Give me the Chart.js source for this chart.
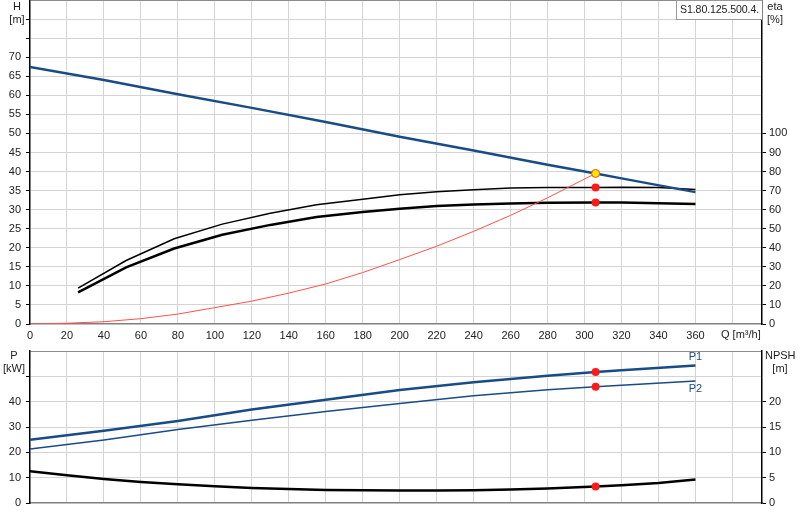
<!DOCTYPE html>
<html>
<head>
<meta charset="utf-8">
<script src="https://cdn.jsdelivr.net/npm/chart.js@4.4.1/dist/chart.umd.min.js"></script>
<style>
  body { margin: 0; background: #fff; }
  #wrap { position: relative; width: 800px; height: 520px; overflow: hidden; font-family: "Liberation Sans", Arial, sans-serif; font-size: 11px; color: #222; }
  canvas { position: absolute; left: 0; }
  #top { top: 0; }
  #bottom { top: 340px; }
  .lbl { position: absolute; text-align: center; line-height: 12.5px; white-space: nowrap; z-index: 2; }
  #box { position: absolute; left: 676px; top: 0; width: 82px; height: 18px; border: 1px solid #999; border-right: none; background: #fff;
         padding-left: 3px; line-height: 17px; font-size: 10.6px; letter-spacing: -0.1px; overflow: hidden; white-space: nowrap; z-index: 2; }
</style>
</head>
<body>
<div id="wrap">
  <canvas id="top" width="800" height="345"></canvas>
  <canvas id="bottom" width="800" height="180"></canvas>
  <div class="lbl" style="left:4px;top:0;width:26px">H<br>[m]</div>
  <div class="lbl" style="left:764px;top:0;width:22px">eta<br>[%]</div>
  <div class="lbl" style="left:721px;top:328px">Q [m³/h]</div>
  <div class="lbl" style="left:1px;top:349px;width:26px">P<br>[kW]</div>
  <div class="lbl" style="left:765px;top:349px;width:30px">NPSH<br>[m]</div>
  <div id="box">S1.80.125.500.4.</div>
</div>
<script>
// pump head curve H(Q)
const qHead = [0, 40, 80, 120, 160, 200, 240, 280, 306, 320, 360];
const head = [67.4, 64.0, 60.3, 56.7, 53.0, 49.1, 45.5, 41.8, 39.5, 38.2, 34.6];

// efficiency curves (right axis, %)
const qEta = [26, 52, 78, 104, 130, 155, 180, 200, 220, 240, 260, 280, 306, 320, 340, 360];
const eta1 = [18.8, 33.3, 44.7, 52.4, 58.1, 62.6, 65.5, 67.8, 69.4, 70.4, 71.3, 71.6, 71.6, 71.8, 71.6, 70.6];
const eta2 = [16.6, 29.7, 39.6, 46.8, 52.0, 56.1, 58.8, 60.5, 61.9, 62.7, 63.2, 63.6, 63.8, 63.8, 63.4, 62.9];

// system curve
const qSys = [0, 20, 40, 60, 80, 100, 120, 140, 160, 180, 200, 220, 240, 260, 280, 306];
const sysHead = [0, 0.2, 0.6, 1.4, 2.6, 4.3, 6.0, 8.1, 10.5, 13.5, 16.9, 20.4, 24.3, 28.5, 33.1, 39.5];

// power and NPSH
const qPow = [0, 40, 80, 120, 160, 200, 240, 280, 306, 320, 360];
const p1 = [25.0, 28.5, 32.4, 36.9, 40.8, 44.6, 47.7, 50.2, 51.7, 52.4, 54.3];
const p2 = [21.3, 24.9, 29.0, 32.7, 36.1, 39.3, 42.3, 44.7, 45.9, 46.5, 48.2];
const qNpsh = [0, 20, 40, 60, 80, 100, 120, 140, 160, 180, 200, 220, 240, 260, 280, 306, 320, 340, 360];
const npsh = [6.26, 5.47, 4.74, 4.15, 3.69, 3.30, 2.96, 2.76, 2.57, 2.51, 2.45, 2.45, 2.51, 2.65, 2.84, 3.24, 3.49, 3.95, 4.62];

// duty point
const qDuty = 306;
const dutyHead = 39.5;
const dutyEta = [71.6, 63.8];
const dutyP = [51.7, 45.9];
const dutyNpsh = 3.24;

const BLUE = '#194b87';
const GRID = '#d4d4d4';

Chart.defaults.font.family = '"Liberation Sans", Arial, sans-serif';
Chart.defaults.font.size = 11;
Chart.defaults.color = '#222';

const pts = (xs, ys) => xs.map((x, i) => ({ x: x, y: ys[i] }));
const line = (data, color, width, axis) => ({
  data: data, borderColor: color, borderWidth: width, pointRadius: 0,
  fill: false, tension: 0, yAxisID: axis, order: 2
});
const dot = (x, y, axis, fillCol, edge) => ({
  type: 'scatter', data: [{ x: x, y: y }], yAxisID: axis, order: 0,
  pointRadius: 4, backgroundColor: fillCol, borderColor: edge || fillCol, borderWidth: edge ? 1 : 0
});

function noPad(s) { s.paddingTop = 0; s.paddingBottom = 0; s.paddingLeft = 0; s.paddingRight = 0; }

function xScale(height, showLabels) {
  return {
    type: 'linear', min: 0, max: 396,
    grid: { color: c => (c.tick && c.tick.value === 0 ? 'rgba(0,0,0,0)' : GRID), drawTicks: false },
    border: { color: '#808080', width: 1.5 },
    ticks: { display: showLabels, stepSize: 20, includeBounds: false, autoSkip: false, maxRotation: 0, padding: 5,
             callback: v => (v <= 360 ? v : '') },
    afterFit: s => { s.height = height; noPad(s); }
  };
}

function yScale(pos, max, step, lastLabel, width, onArea) {
  return {
    type: 'linear', position: pos, min: 0, max: max,
    grid: {
      drawOnChartArea: onArea, tickLength: 4,
      color: c => {
        if (!c.tick || c.tick.value === 0) return 'rgba(0,0,0,0)';
        return c.tick.value === max ? '#8c8c8c' : GRID;
      },
      tickColor: c => (c.tick && c.tick.value < max && c.tick.value <= (onArea ? max : lastLabel) ? '#000' : 'rgba(0,0,0,0)')
    },
    border: { color: '#000', width: 1.5 },
    ticks: { stepSize: step, autoSkip: false, padding: pos === 'left' ? 5 : 3,
             callback: v => (v <= lastLabel ? v : '') },
    afterFit: s => { s.width = width; noPad(s); }
  };
}

new Chart(document.getElementById('top'), {
  type: 'line',
  data: {
    datasets: [
      dot(qDuty, dutyHead, 'y', '#ffe600', '#e05a00'),
      dot(qDuty, dutyEta[0], 'y2', '#ff1a1a'),
      dot(qDuty, dutyEta[1], 'y2', '#ff1a1a'),
      line(pts(qHead, head), BLUE, 2.5, 'y'),
      line(pts(qSys, sysHead), '#ff5050', 1, 'y'),
      line(pts(qEta, eta1), '#000', 1.5, 'y2'),
      line(pts(qEta, eta2), '#000', 2.5, 'y2')
    ]
  },
  options: {
    responsive: false, animation: false,
    layout: { padding: 0, autoPadding: false },
    plugins: { legend: { display: false }, tooltip: { enabled: false } },
    scales: {
      x: xScale(21, true),
      y: yScale('left', 85, 5, 70, 30, true),
      y2: yScale('right', 170, 10, 100, 38, false)
    }
  }
});

const curveTags = {
  id: 'curveTags',
  afterDatasetsDraw(chart) {
    const { ctx, scales } = chart;
    const xe = scales.x.getPixelForValue(qPow[qPow.length - 1]);
    ctx.save();
    ctx.fillStyle = BLUE;
    ctx.font = '11px "Liberation Sans", Arial, sans-serif';
    ctx.textAlign = 'center';
    ctx.textBaseline = 'alphabetic';
    ctx.fillText('P1', xe, scales.y.getPixelForValue(p1[p1.length - 1]) - 5);
    ctx.fillText('P2', xe, scales.y.getPixelForValue(p2[p2.length - 1]) + 11);
    ctx.restore();
  }
};

new Chart(document.getElementById('bottom'), {
  type: 'line',
  data: {
    datasets: [
      dot(qDuty, dutyP[0], 'y', '#ff1a1a'),
      dot(qDuty, dutyP[1], 'y', '#ff1a1a'),
      dot(qDuty, dutyNpsh, 'y2', '#ff1a1a'),
      line(pts(qPow, p1), BLUE, 2.5, 'y'),
      line(pts(qPow, p2), BLUE, 1.5, 'y'),
      line(pts(qNpsh, npsh), '#000', 2.5, 'y2')
    ]
  },
  options: {
    responsive: false, animation: false,
    layout: { padding: { top: 11 }, autoPadding: false },
    plugins: { legend: { display: false }, tooltip: { enabled: false } },
    scales: {
      x: xScale(17, false),
      y: yScale('left', 60, 10, 40, 30, true),
      y2: yScale('right', 30, 5, 20, 38, false)
    }
  },
  plugins: [curveTags]
});
</script>
</body>
</html>
